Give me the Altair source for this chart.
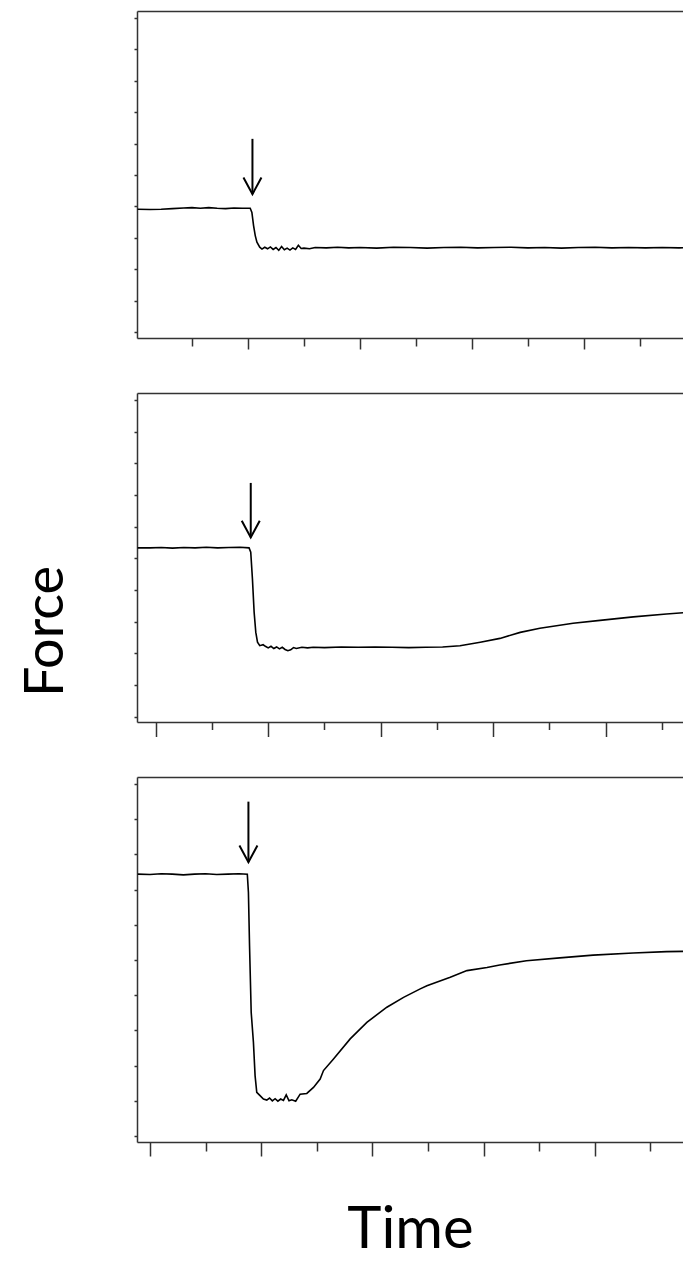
import altair as alt
import pandas as pd

# ---- data (time in tick units, force in tick units) ----
p1_t = [0.03, 0.25, 0.45, 0.65, 0.85, 1.0, 1.15, 1.3, 1.45, 1.6, 1.75, 1.9, 2.04,
        2.07, 2.10, 2.13, 2.16, 2.21,
        2.25, 2.30, 2.35, 2.40, 2.45, 2.50, 2.55, 2.60, 2.65, 2.70, 2.75, 2.80, 2.85, 2.90, 2.95, 3.0, 3.1, 3.2,
        3.4, 3.6, 3.8, 4.0, 4.3, 4.6, 4.9, 5.2, 5.5, 5.8, 6.1, 6.4, 6.7, 7.0, 7.3, 7.6, 7.9, 8.2, 8.5, 8.8,
        9.1, 9.4, 9.7, 9.9]
p1_f = [3.91, 3.90, 3.91, 3.93, 3.95, 3.96, 3.94, 3.96, 3.94, 3.93, 3.95, 3.94, 3.94,
        3.81, 3.39, 3.07, 2.86, 2.70,
        2.64, 2.70, 2.65, 2.71, 2.63, 2.69, 2.60, 2.72, 2.62, 2.67, 2.61, 2.68, 2.63, 2.76, 2.66, 2.67, 2.65, 2.69,
        2.68, 2.70, 2.68, 2.69, 2.67, 2.70, 2.69, 2.67, 2.69, 2.70, 2.68, 2.69, 2.70, 2.68, 2.69, 2.67, 2.69, 2.70,
        2.68, 2.69, 2.68, 2.69, 2.68, 2.69]

p2_t = [-0.32, -0.1, 0.1, 0.3, 0.5, 0.7, 0.9, 1.1, 1.3, 1.5, 1.66,
        1.69, 1.72, 1.75, 1.78, 1.81, 1.85, 1.91,
        1.95, 2.0, 2.05, 2.1, 2.15, 2.2, 2.25, 2.3, 2.35, 2.4, 2.45, 2.5, 2.6, 2.7, 2.8,
        3.0, 3.3, 3.6, 3.9, 4.2, 4.5, 4.8, 5.1, 5.41,
        5.77, 6.12, 6.48, 6.83, 7.42, 7.90, 8.49, 9.08, 9.52]
p2_f = [5.33, 5.33, 5.34, 5.32, 5.34, 5.33, 5.35, 5.33, 5.34, 5.35, 5.33,
        5.19, 4.35, 3.30, 2.66, 2.35, 2.24, 2.27,
        2.22, 2.17, 2.22, 2.15, 2.20, 2.14, 2.19, 2.12, 2.08, 2.11, 2.18, 2.15, 2.19, 2.17, 2.19,
        2.18, 2.20, 2.19, 2.20, 2.19, 2.18, 2.19, 2.20, 2.24,
        2.35, 2.47, 2.66, 2.79, 2.95, 3.04, 3.15, 3.24, 3.30]

p3_t = [-0.22, 0.0, 0.2, 0.4, 0.6, 0.8, 1.0, 1.2, 1.4, 1.6, 1.75,
        1.77, 1.79, 1.82, 1.86, 1.89, 1.92, 1.97, 2.04,
        2.1, 2.15, 2.2, 2.25, 2.3, 2.35, 2.4, 2.45, 2.5, 2.55, 2.62,
        2.70, 2.82, 2.94, 3.06, 3.12, 3.30, 3.60, 3.90, 4.26, 4.56, 4.86, 4.98, 5.40, 5.70,
        6.06, 6.29, 6.77, 7.37, 7.97, 8.69, 9.29, 9.73]
p3_f = [7.44, 7.43, 7.45, 7.44, 7.42, 7.44, 7.45, 7.43, 7.44, 7.45, 7.44,
        6.92, 5.41, 3.51, 2.66, 1.71, 1.24, 1.16, 1.05,
        1.02, 1.08, 1.00, 1.06, 0.99, 1.05, 1.01, 1.17, 1.00, 1.03, 0.99,
        1.19, 1.21, 1.38, 1.62, 1.86, 2.19, 2.76, 3.23, 3.66, 3.94, 4.18, 4.27, 4.51, 4.70,
        4.79, 4.86, 4.98, 5.06, 5.14, 5.20, 5.24, 5.25]

arrow_t = [2.08, 1.69, 1.77]
arrow_top = [6.15, 7.38, 9.50]
arrow_tip = [4.39, 5.66, 7.78]

x_domains = [[0.018, 9.77], [-0.332, 9.374], [-0.234, 9.586]]
y_domains = [[-0.19, 10.22], [-0.17, 10.22], [-0.17, 10.2]]
x_ticks = [list(range(1, 10)), list(range(0, 10)), list(range(0, 10))]
y_ticks = list(range(0, 11))
heights = [327, 329, 365]
tick_long = [11, 14.5, 14]
tick_short = [8, 7.5, 9]

PW = 546
AX = "#333333"
FONT = "Lato"


def panel(i, t, f, ytitle=None, xtitle=None):
    df = pd.DataFrame({"t": t, "f": f})
    adf = pd.DataFrame({"t": [arrow_t[i]], "top": [arrow_top[i]], "tip": [arrow_tip[i]]})
    xs = alt.Scale(domain=x_domains[i], nice=False, zero=False)
    ys = alt.Scale(domain=y_domains[i], nice=False, zero=False)

    xkw = dict(orient="bottom", values=x_ticks[i], labels=False, grid=False,
               domainColor=AX, domainWidth=1.5, tickColor=AX, tickWidth=1.5,
               tickSize={"condition": {"test": "datum.value % 2 === 0", "value": tick_long[i]},
                         "value": tick_short[i]})
    if xtitle:
        xkw.update(title=xtitle, titleY=105, titleBaseline="alphabetic", titleFont=FONT,
                   titleFontSize=58, titleFontWeight="normal", titleColor="black")
    else:
        xkw.update(title=None)

    ykw = dict(orient="left", values=y_ticks, labels=False, grid=False, domainColor=AX,
               domainWidth=1.5, tickColor=AX, tickWidth=1.5, tickSize=3)
    if ytitle:
        ykw.update(title=ytitle, titleX=-75, titleY=238, titleAngle=270, titleAlign="center",
                   titleBaseline="alphabetic", titleFont=FONT, titleFontSize=54,
                   titleFontWeight="normal", titleColor="black")
    else:
        ykw.update(title=None)
    yaxis = alt.Axis(**ykw)

    line = alt.Chart(df).mark_line(color="black", strokeWidth=1.6, clip=True).encode(
        x=alt.X("t:Q", scale=xs, axis=alt.Axis(**xkw)),
        y=alt.Y("f:Q", scale=ys, axis=yaxis),
    )
    shaft = alt.Chart(adf).mark_rule(color="black", strokeWidth=2).encode(
        x=alt.X("t:Q", scale=xs, axis=alt.Axis(orient="top", ticks=False, labels=False, grid=False,
                                             title=None, domainColor=AX, domainWidth=1.5)),
        y=alt.Y("top:Q", scale=ys, axis=yaxis),
        y2="tip:Q",
    )
    head = alt.Chart(adf).mark_point(
        shape="M-1,-1.85L0,0L1,-1.85", size=324, filled=False, color="black",
        strokeWidth=2, opacity=1,
    ).encode(
        x=alt.X("t:Q", scale=xs, axis=None),
        y=alt.Y("tip:Q", scale=ys, axis=yaxis),
    )
    return alt.layer(line, shaft, head).resolve_axis(x="independent").properties(
        width=PW, height=heights[i])


c1 = panel(0, p1_t, p1_f)
c2 = panel(1, p2_t, p2_f, ytitle="Force")
c3 = panel(2, p3_t, p3_f, xtitle="Time")

chart = alt.vconcat(c1, c2, c3, spacing=55, bounds="flush").properties(
    padding={"top": 3, "left": 11, "right": 0, "bottom": 0},
    background="white",
).configure_view(stroke=None)

chart.save("out.html", embed_options={"renderer": "svg", "actions": False})
